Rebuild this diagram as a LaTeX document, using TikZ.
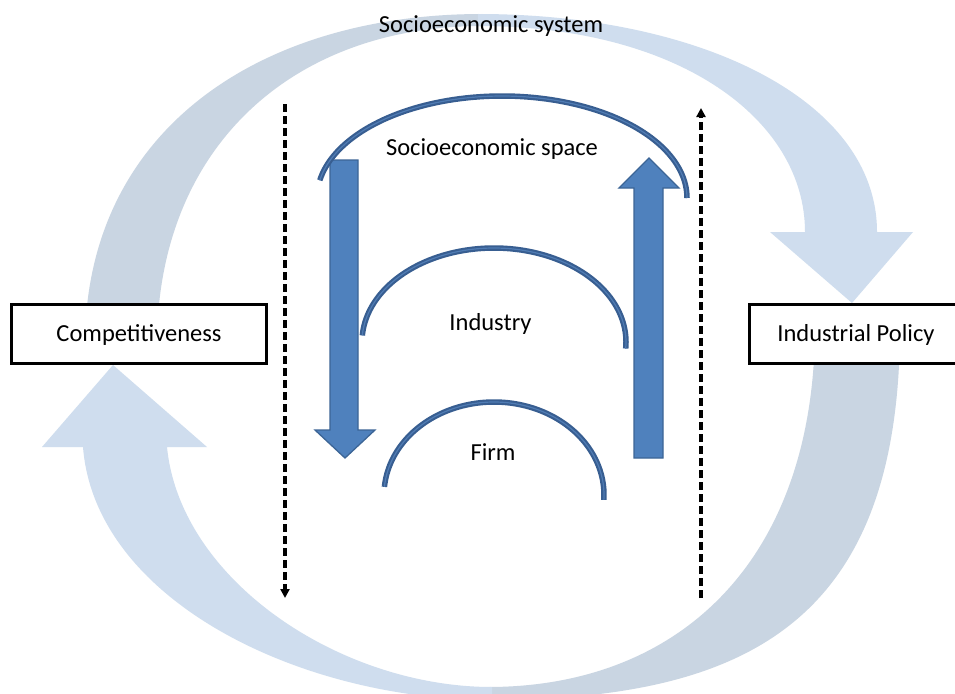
\documentclass[tikz,border=0pt]{standalone}
\usepackage{fontspec}
\setmainfont{Carlito}
\usetikzlibrary{arrows.meta}
\definecolor{ringlight}{RGB}{207,221,238}
\definecolor{ringdark}{RGB}{201,213,226}
\definecolor{blockfill}{RGB}{79,129,189}
\definecolor{blockedge}{RGB}{60,101,150}
\definecolor{archdark}{RGB}{56,94,145}
\definecolor{archlight}{RGB}{80,124,180}
\begin{document}
\begin{tikzpicture}[x=1pt,y=-1pt,
  lbl/.style={font=\fontsize{24.5}{28}\selectfont, inner sep=0pt},
  box/.style={draw=black, line width=2.8pt, fill=white, inner sep=0pt,
              font=\fontsize{24.5}{28}\selectfont, text height=15.4pt, text depth=0pt},
  block/.style={fill=blockfill, draw=blockedge, line width=1.3pt, line join=miter},
  dasharrow/.style={line width=3.1pt, dash pattern=on 8pt off 4pt, -{Triangle[length=9pt,width=9pt]}},
  archline/.style={line width=5.5pt, draw=archdark},
  archhl/.style={line width=1.2pt, draw=archlight}
]
\useasboundingbox (0,0) rectangle (955,693);
\clip (0,0) rectangle (955,693);
\fill[white] (0,0) rectangle (955,693);

% ---- big circular arrows ----
% top arrow: dark back part
\fill[ringdark] (85,345) .. controls (85,130) and (260,14) .. (482,14)
  -- (482,26) .. controls (290,26) and (157,150) .. (157,345) -- cycle;
% top arrow: light front part with head
\fill[ringlight] (478,14) .. controls (700,14) and (877,100) .. (877,232)
  -- (913,232) -- (852,303) -- (770,232) -- (805,232)
  .. controls (805,120) and (680,26) .. (478,26) -- cycle;
% bottom arrow: dark back part
\fill[ringdark] (488,700) .. controls (750,700) and (900,620) .. (900,325)
  -- (815,325) .. controls (815,560) and (680,687) .. (488,687) -- cycle;
% bottom arrow: light front part with head
\fill[ringlight] (492,700) .. controls (300,700) and (95,600) .. (83,447)
  -- (42,447) -- (113,365) -- (207,447) -- (167,447)
  .. controls (180,580) and (340,687) .. (492,687) -- cycle;

% ---- boxes ----
\node[box, minimum width=255pt, minimum height=59pt] (comp) at (139,334) {Competitiveness};
\node[box, minimum width=213pt, minimum height=59pt] (policy) at (856,334) {Industrial Policy};

% ---- dashed arrows ----
\coordinate (dlTop) at (285,104);
\coordinate (dlBot) at (285,598);
\coordinate (drBot) at (701,598);
\coordinate (drTop) at (701,108);
\draw[dasharrow] (dlTop) -- (dlBot);
\draw[dasharrow] (drBot) -- (drTop);

% ---- block arrows ----
\filldraw[block] (330,160) -- (358,160) -- (358,430) -- (375,430) -- (345,458) -- (315,430) -- (330,430) -- cycle;
\filldraw[block] (634,458) -- (663,458) -- (663,188) -- (679,188) -- (649,158) -- (619,188) -- (634,188) -- cycle;

% ---- arches ----
\draw[archline] plot[domain=170:0, samples=90] ({502+185*cos(\x)}, {198-102*sin(\x)});
\draw[archhl] plot[domain=170:0, samples=90] ({502+185*cos(\x)}, {198-102*sin(\x)});
\draw[archline] plot[domain=176:-4, samples=90] ({494+132*cos(\x)}, {342-94*sin(\x)});
\draw[archhl] plot[domain=176:-4, samples=90] ({494+132*cos(\x)}, {342-94*sin(\x)});
\draw[archline] plot[domain=175:-3, samples=90] ({494+110*cos(\x)}, {495-93*sin(\x)});
\draw[archhl] plot[domain=175:-3, samples=90] ({494+110*cos(\x)}, {495-93*sin(\x)});

% ---- labels ----
\node[lbl, anchor=base] (sys) at (491,33) {Socioeconomic system};
\node[lbl, anchor=base] (space) at (492,155.5) {Socioeconomic space};
\node[lbl, anchor=base] (industry) at (490.5,330) {Industry};
\node[lbl, anchor=base] (firm) at (493,460) {Firm};
\end{tikzpicture}
\end{document}
